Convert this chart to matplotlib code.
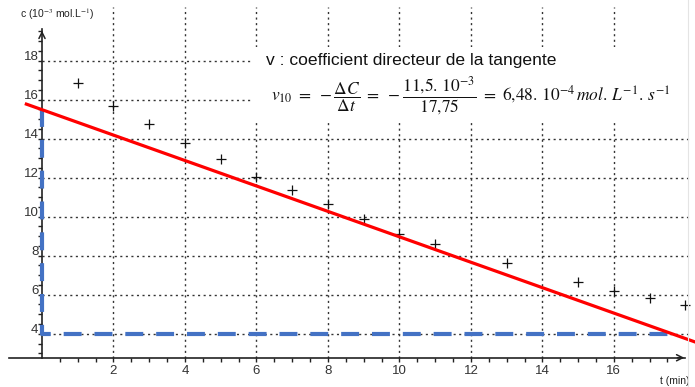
import numpy as np
import matplotlib.pyplot as plt
from matplotlib.patches import Rectangle
from matplotlib.lines import Line2D

plt.rcParams['font.family'] = ['Liberation Sans', 'DejaVu Sans']
plt.rcParams['mathtext.fontset'] = 'stix'

# measured points c = f(t)
t_pts = [1, 2, 3, 4, 5, 6, 7, 8, 9, 10, 11, 13, 15, 16, 17, 18]
c_pts = [16.85, 15.7, 14.75, 13.8, 12.95, 12.05, 11.35, 10.65, 9.9, 9.1, 8.6,
         7.65, 6.65, 6.2, 5.85, 5.45]

# tangent at t = 10 (read end points)
tangent_t = [-0.48, 18.3]
tangent_c = [15.8, 3.56]

# construction lines for delta C / delta t
guide_t = [0, 0, 17.75]
guide_c = [15.5, 4, 4]

xticks = [2, 4, 6, 8, 10, 12, 14, 16]
yticks = [4, 6, 8, 10, 12, 14, 16, 18]

fig = plt.figure(figsize=(6.95, 3.87), dpi=100)
ax = fig.add_axes([0, 0, 1, 1])
ax.set_xlim(-1.175, 18.27)
ax.set_ylim(1.27, 21.11)

axis_col = '#222222'
x_base = 2.77

# axes through the origin-ish
for s in ['top', 'right']:
    ax.spines[s].set_visible(False)
ax.spines['left'].set_position(('data', 0))
ax.spines['left'].set_bounds(x_base, 19.6)
ax.spines['bottom'].set_position(('data', x_base))
ax.spines['bottom'].set_bounds(-0.92, 18.0)
for s in ['left', 'bottom']:
    ax.spines[s].set_color(axis_col)
    ax.spines[s].set_linewidth(1.2)

ax.annotate('', xy=(0, 19.68), xytext=(0, 19.2),
            arrowprops=dict(arrowstyle='->', color=axis_col, lw=1.1, mutation_scale=11))
ax.annotate('', xy=(18.05, x_base), xytext=(17.7, x_base),
            arrowprops=dict(arrowstyle='->', color=axis_col, lw=1.1, mutation_scale=11))

ax.set_xticks(xticks)
ax.set_xticks(np.arange(0.5, 18, 0.5), minor=True)
ax.set_yticks(yticks)
ax.set_yticks(np.arange(3, 19.6, 0.5), minor=True)
ax.tick_params(which='both', direction='out', length=3, width=1, color=axis_col)
ax.tick_params(axis='x', labelsize=9.5, labelcolor='#333333', pad=2)
ax.tick_params(axis='y', labelleft=False)
for v in yticks:
    ax.text(-0.1, v + 0.2, str(v), ha='right', va='center', fontsize=9.5, color='#333333')

# dotted grid
grid_kw = dict(colors='#333333', linestyles=(0, (1.5, 2.5)), linewidths=1, zorder=1)
ax.vlines(xticks, x_base, 20.75, **grid_kw)
ax.hlines(yticks, 0, 18.13, **grid_kw)

# white area under the formula
ax.add_patch(Rectangle((5.9, 14.86), 12.4, 3.84, facecolor='white',
                       edgecolor='none', zorder=2))

ax.plot(t_pts, c_pts, '+', color='#111111', ms=7, mew=0.9, zorder=3, clip_on=False)
ax.plot(guide_t, guide_c, color='#4472C4', lw=3, dashes=(4.3, 3.1),
        solid_capstyle='butt', dash_capstyle='butt', zorder=4)
ax.plot(tangent_t, tangent_c, color='#FF0000', lw=2.3, zorder=5,
        solid_capstyle='butt', clip_on=False)

ax.text(-0.62, 20.39, r'c (10$^{-3}$ mol.L$^{-1}$)', fontsize=7.5,
        color='#222222', ha='left', va='center')
ax.text(18.13, 1.57, 't (min)', fontsize=7.5, color='#222222', ha='right', va='center')

ax.text(6.27, 18.0, 'v : coefficient directeur de la tangente', fontsize=12.6,
        color='#111111', ha='left', va='center', zorder=6)
ax.text(12.0, 16.15,
        r'$v_{10}\ =\ -\dfrac{\Delta C}{\Delta t}\ =\ -\dfrac{11{,}5.\,10^{-3}}{17{,}75}'
        r'\ =\ 6{,}48.\,10^{-4}\,mol.\,L^{-1}.\,s^{-1}$',
        fontsize=12.5, color='#111111', ha='center', va='center', zorder=6)

fig.add_artist(Line2D([688 / 695, 688 / 695], [0, 1], color='#e4e4e4', lw=0.8))

fig.savefig('out.png', dpi=100)
